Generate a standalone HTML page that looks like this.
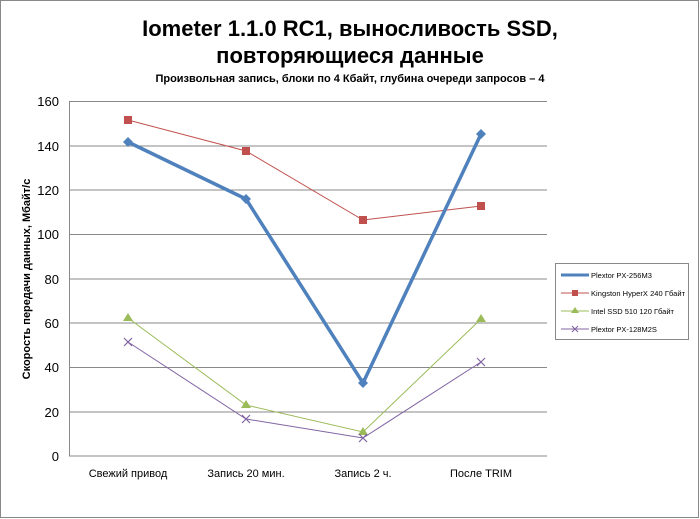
<!DOCTYPE html><html><head><meta charset="utf-8"><style>body{margin:0;background:#fff}svg{display:block}text{font-family:"Liberation Sans","DejaVu Sans",sans-serif}</style></head><body>
<svg width="700" height="519" xmlns="http://www.w3.org/2000/svg">
<rect x="0.5" y="0.5" width="698" height="517" fill="#fff" stroke="#888"/>
<text x="350" y="36" font-size="22" font-weight="bold" text-anchor="middle">Iometer 1.1.0 RC1, выносливость SSD,</text>
<text x="350" y="63" font-size="22" font-weight="bold" text-anchor="middle">повторяющиеся данные</text>
<text x="350" y="82" font-size="11" font-weight="bold" text-anchor="middle">Произвольная  запись, блоки по 4 Кбайт, глубина очереди запросов – 4</text>
<g stroke="#888" stroke-width="1">
<line x1="69" y1="101.5" x2="547" y2="101.5"/><line x1="69" y1="146" x2="547" y2="146"/><line x1="69" y1="190" x2="547" y2="190"/><line x1="69" y1="234.5" x2="547" y2="234.5"/><line x1="69" y1="279" x2="547" y2="279"/><line x1="69" y1="323" x2="547" y2="323"/><line x1="69" y1="367.5" x2="547" y2="367.5"/><line x1="69" y1="412" x2="547" y2="412"/><line x1="69" y1="456" x2="547" y2="456"/>
<line x1="69.5" y1="101" x2="69.5" y2="456"/>
</g>
<g font-size="13" text-anchor="end"><text x="59" y="106">160</text><text x="59" y="151">140</text><text x="59" y="195">120</text><text x="59" y="239">100</text><text x="59" y="284">80</text><text x="59" y="328">60</text><text x="59" y="372">40</text><text x="59" y="417">20</text><text x="59" y="461">0</text></g>
<g font-size="11" text-anchor="middle"><text x="128" y="477">Свежий  привод</text><text x="246" y="477">Запись 20 мин.</text><text x="363" y="477">Запись 2 ч.</text><text x="481" y="477">После TRIM</text></g>
<text transform="translate(30,279) rotate(-90)" font-size="11" font-weight="bold" text-anchor="middle">Скорость  передачи данных, Мбайт/с</text>
<polyline points="128,120 246,151 363,220 481,206" fill="none" stroke="#c0504d" stroke-width="1"/>
<g fill="#c0504d"><rect x="124" y="116" width="8" height="8"/><rect x="242" y="147" width="8" height="8"/><rect x="359" y="216" width="8" height="8"/><rect x="477" y="202" width="8" height="8"/></g>
<polyline points="128,318 246,405 363,432 481,319" fill="none" stroke="#9bbb59" stroke-width="1"/>
<g fill="#9bbb59"><path d="M128,313l5,8h-10z"/><path d="M246,400l5,8h-10z"/><path d="M363,427l5,8h-10z"/><path d="M481,314l5,8h-10z"/></g>
<polyline points="128,342 246,419 363,438 481,362" fill="none" stroke="#8064a2" stroke-width="1"/>
<g stroke="#8064a2" stroke-width="1.2"><path d="M124,338l8,8M132,338l-8,8"/><path d="M242,415l8,8M250,415l-8,8"/><path d="M359,434l8,8M367,434l-8,8"/><path d="M477,358l8,8M485,358l-8,8"/></g>
<polyline points="128,142 246,199 363,383 481,134" fill="none" stroke="#4f81bd" stroke-width="3.5"/>
<g fill="#4f81bd"><path d="M128,137l5,5-5,5-5-5z"/><path d="M246,194l5,5-5,5-5-5z"/><path d="M363,378l5,5-5,5-5-5z"/><path d="M481,129l5,5-5,5-5-5z"/></g>
<rect x="555.5" y="263.5" width="133" height="76" fill="#fff" stroke="#888"/>
<g font-size="7.5">
<line x1="561" y1="275" x2="589" y2="275" stroke="#4f81bd" stroke-width="3"/><text x="591" y="278">Plextor PX-256M3</text>
<line x1="561" y1="293" x2="589" y2="293" stroke="#c0504d"/><rect x="572" y="290" width="6" height="6" fill="#c0504d"/><text x="591" y="296" textLength="94">Kingston HyperX 240 Гбайт</text>
<line x1="561" y1="311" x2="589" y2="311" stroke="#9bbb59"/><path d="M575,307l4,6h-8z" fill="#9bbb59"/><text x="591" y="314">Intel SSD 510 120 Гбайт</text>
<line x1="561" y1="329" x2="589" y2="329" stroke="#8064a2"/><path d="M572,326l6,6M578,326l-6,6" stroke="#8064a2"/><text x="591" y="332">Plextor PX-128M2S</text>
</g>
</svg></body></html>
